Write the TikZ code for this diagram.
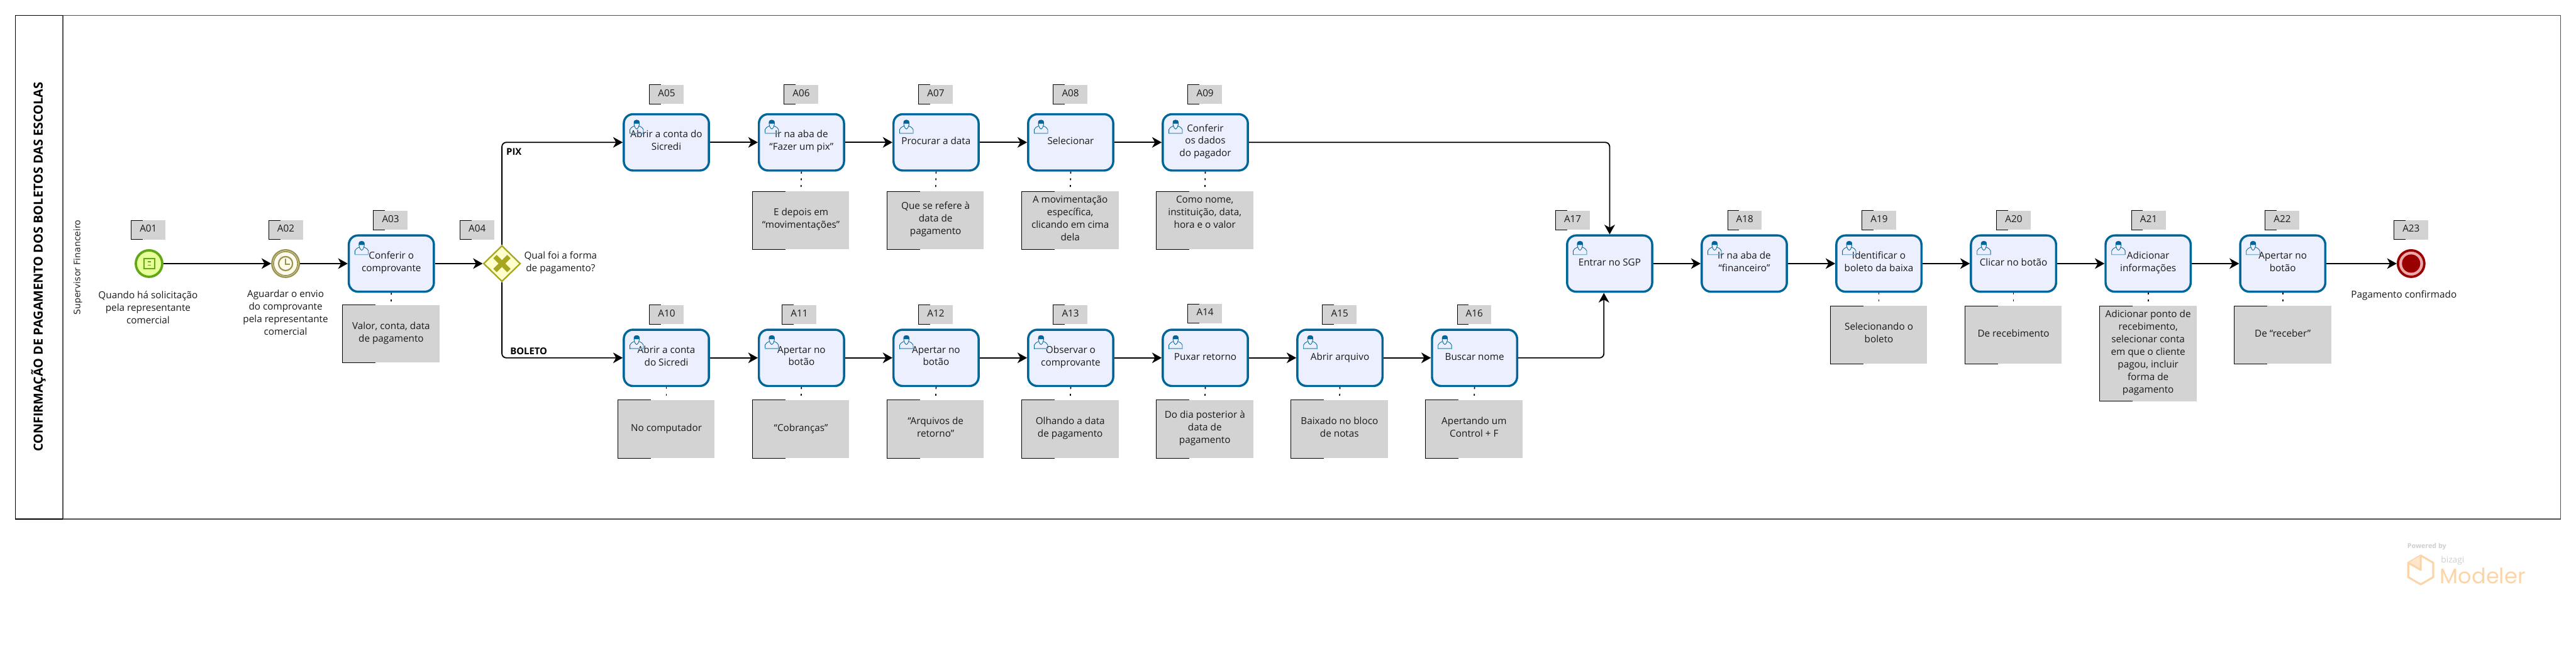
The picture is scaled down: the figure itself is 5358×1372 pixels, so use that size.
\documentclass[tikz,border=0pt]{standalone}
\usepackage{fontspec}
\setmainfont{Open Sans}
\newfontfamily\logofont{Poppins}
\newfontfamily\lanefont{DejaVu Sans}
\usetikzlibrary{arrows.meta,calc,shapes.geometric}
\definecolor{taskblue}{HTML}{00669A}
\definecolor{taskfill}{HTML}{ECEFFE}
\definecolor{tagfill}{HTML}{D3D3D3}
\definecolor{poolgrey}{HTML}{505050}
\definecolor{gwline}{HTML}{A6A620}
\definecolor{gwfill}{HTML}{FFFFCC}
\definecolor{startline}{HTML}{62A716}
\definecolor{startfill}{HTML}{E6FF97}
\definecolor{timerline}{HTML}{99924E}
\definecolor{timerfill}{HTML}{FEFAEC}
\definecolor{endline}{HTML}{990000}
\definecolor{endring}{HTML}{EDA9A9}
\definecolor{logoorange}{HTML}{FBD5A8}
\definecolor{logogrey}{HTML}{CFCFCF}
\newcommand{\linestrut}{\rule[-8.5pt]{0pt}{26pt}}
\tikzset{
  body/.style={font=\fontsize{20}{26}\selectfont,align=center,inner sep=0pt,text=black!90,
    execute at begin node=\linestrut,execute at end node=\linestrut},
  taskbox/.style={body,draw=taskblue,fill=taskfill,line width=4.5pt,rounded corners=19pt,minimum width=177pt,minimum height=117pt},
  tagbox/.style={body,fill=tagfill,minimum width=71pt,minimum height=40pt},
  notebox/.style={body,fill=tagfill,minimum width=201pt},
  bracket/.style={draw=black,line width=1.1pt},
  flow/.style={draw=black,line width=2.4pt,-{Stealth[length=20pt,width=22pt,inset=6pt]},rounded corners=9pt},
  assoc/.style={draw=black,line width=2.2pt,dash pattern=on 4pt off 10pt},
  txt/.style={body},
  gatelabel/.style={font=\fontsize{19.5}{26}\selectfont\bfseries,inner sep=0pt},
  usericon/.style={draw=taskblue,line width=1.1pt,fill=white},
}
% tag or note with the black bracket on its left side
\newcommand{\flagged}[6]{%
  \node[#1,#2] (#3) at (#4) {#5};
  \draw[bracket] ($(#3.north west)+(#6,0)$) -- (#3.north west) -- (#3.south west) -- ($(#3.south west)+(#6,0)$);
}
\newcommand{\tagat}[4][71pt]{\flagged{tagbox}{minimum width=#1}{#2}{#3}{#4}{24pt}}
\newcommand{\noteat}[4][120pt]{\flagged{notebox}{minimum height=#1}{#2}{#3}{#4}{68pt}}
% task with the user icon in its corner
\newcommand{\taskat}[3]{%
  \node[taskbox] (#1) at (#2) {#3};
  \begin{scope}[shift={($(#1.north west)+(14,14)$)}]
    \draw[usericon,fill=none] (1,28) -- (1,20) .. controls (2,16) and (6,15) .. (9,13) -- (21,13) .. controls (24,15) and (28,16) .. (29,20) -- (29,28) -- cycle;
    \draw[usericon,fill=taskfill] (15,0.5) .. controls (9,0.5) and (9,6) .. (9.5,9) .. controls (10,13) and (12,18) .. (15,19) .. controls (18,18) and (20,13) .. (20.5,9) .. controls (21,6) and (21,0.5) .. (15,0.5) -- cycle;
    \fill[taskblue] (15,0) .. controls (8.5,0) and (8.5,6) .. (9.5,8) -- (20.5,8) .. controls (21.5,6) and (21.5,0) .. (15,0) -- cycle;
    \draw[taskblue!50,line width=1.5pt] (1,27.5) -- (29,27.5);
  \end{scope}
}
\begin{document}
\begin{tikzpicture}[x=1pt,y=-1pt]
\useasboundingbox (0,0) rectangle (5358,1372);
\fill[white] (0,0) rectangle (5358,1372);
% pool
\draw[draw=poolgrey,line width=2.2pt] (32,32) rectangle (5326,1079);
\draw[draw=poolgrey,line width=2pt] (131,32) -- (131,1079);
\draw[draw=black,line width=2.2pt] (131,32) -- (32,32) -- (32,1079) -- (131,1079);
\node[rotate=90,font=\fontsize{26}{30}\selectfont\bfseries,inner sep=0pt] (title) at (80,555) {CONFIRMAÇÃO DE PAGAMENTO DOS BOLETOS DAS ESCOLAS};
\node[rotate=90,font=\lanefont\fontsize{18.3}{26}\selectfont,inner sep=0pt,text=black!85] (lane) at (162,556) {Supervisor Financeiro};

% A01 start event
\node[circle,draw=startline,fill=startfill,line width=5pt,minimum size=55pt,inner sep=0pt] (a01) at (310,548) {};
\draw[startline,line width=3pt] (299.5,537.5) rectangle (321.5,558.5);
\draw[startline,line width=2.2pt] (307,544.5) -- (314,544.5) (307,551.5) -- (314,551.5);
\tagat{ta01}{308.5,478}{A01}
\node[txt] (la01) at (308,643) {Quando há solicitação\\pela representante\\comercial};

% A02 timer event
\node[circle,draw=timerline,fill=timerfill,line width=3pt,minimum size=57pt,inner sep=0pt] (a02) at (594,548) {};
\draw[timerline,line width=2.2pt] (594,548) circle (25);
\draw[timerline,line width=2.8pt] (594,548) circle (14.5);
\draw[timerline,line width=2.4pt] (594,538) -- (594,549) -- (603,549);
\tagat{ta02}{594.5,478}{A02}
\node[txt] (la02) at (594,654) {Aguardar o envio\\do comprovante\\pela representante\\comercial};

% A03
\taskat{a03}{814,548}{Conferir o\\comprovante}
\tagat{ta03}{812.5,458}{A03}
\noteat{n03}{813.5,694}{Valor, conta, data\\de pagamento}

% A04 gateway
\node[diamond,draw=gwline,fill=gwfill,line width=3pt,minimum width=77pt,minimum height=75pt,inner sep=0pt] (a04) at (1044,548) {};
\draw[gwline,line width=10pt] (1029.5,533.5) -- (1058.5,562.5) (1058.5,533.5) -- (1029.5,562.5);
\tagat{ta04}{992.5,478}{A04}
\node[txt] (la04) at (1166,548) {Qual foi a forma\\de pagamento?};

% top row
\taskat{a05}{1386,296}{Abrir a conta do\\Sicredi}
\taskat{a06}{1667,296}{Ir na aba de\\“Fazer um pix”}
\taskat{a07}{1947,296}{Procurar a data}
\taskat{a08}{2227,296}{Selecionar}
\taskat{a09}{2507,296}{Conferir\\os dados\\do pagador}
\tagat{ta05}{1386.5,196}{A05}
\tagat{ta06}{1666.5,196}{A06}
\tagat{ta07}{1946.5,196}{A07}
\tagat{ta08}{2226.5,196}{A08}
\tagat{ta09}{2506.5,196}{A09}
\noteat{n06}{1666,458}{E depois em\\“movimentações”}
\noteat{n07}{1946,458}{Que se refere à\\data de\\pagamento}
\noteat{n08}{2226,458}{A movimentação\\específica,\\clicando em cima\\dela}
\noteat{n09}{2506,458}{Como nome,\\instituição, data,\\hora e o valor\\\mbox{}}

% bottom row
\taskat{a10}{1386,744}{Abrir a conta\\do Sicredi}
\taskat{a11}{1667,744}{Apertar no\\botão}
\taskat{a12}{1947,744}{Apertar no\\botão}
\taskat{a13}{2227,744}{Observar o\\comprovante}
\taskat{a14}{2507,744}{Puxar retorno}
\taskat{a15}{2787,744}{Abrir arquivo}
\taskat{a16}{3067,744}{Buscar nome}
\tagat{ta10}{1386.5,654}{A10}
\tagat{ta11}{1662.5,654}{A11}
\tagat{ta12}{1946.5,654}{A12}
\tagat{ta13}{2226.5,654}{A13}
\tagat{ta14}{2506.5,652}{A14}
\tagat{ta15}{2786.5,654}{A15}
\tagat{ta16}{3066.5,654}{A16}
\noteat{n10}{1386,892}{No computador}
\noteat{n11}{1666,892}{“Cobranças”}
\noteat{n12}{1946,892}{“Arquivos de\\retorno”}
\noteat{n13}{2226,892}{Olhando a data\\de pagamento}
\noteat{n14}{2506,892}{Do dia posterior à\\data de\\pagamento}
\noteat{n15}{2786,892}{Baixado no bloco\\de notas}
\noteat{n16}{3066,892}{Apertando um\\Control + F}

% merged row
\taskat{a17}{3348,548}{Entrar no SGP}
\taskat{a18}{3628,548}{Ir na aba de\\“financeiro”}
\taskat{a19}{3908,548}{Identificar o\\boleto da baixa}
\taskat{a20}{4188,548}{Clicar no botão}
\taskat{a21}{4468,548}{Adicionar\\informações}
\taskat{a22}{4748,548}{Apertar no\\botão}
\tagat{ta17}{3271,458}{A17}
\tagat{ta18}{3629,458}{A18}
\tagat{ta19}{3908.5,458}{A19}
\tagat{ta20}{4188.5,458}{A20}
\tagat{ta21}{4469,458}{A21}
\tagat{ta22}{4747,458}{A22}
\noteat{n19}{3908,696}{Selecionando o\\boleto}
\noteat{n20}{4188,696}{De recebimento}
\noteat[198pt]{n21}{4468,735}{Adicionar ponto de\\recebimento,\\selecionar conta\\em que o cliente\\pagou, incluir\\forma de\\pagamento}
\noteat{n22}{4748,696}{De “receber”}

% A23 end event
\node[circle,draw=endline,fill=endring,line width=5pt,minimum size=55pt,inner sep=0pt] (a23) at (5015,548) {};
\fill[endline] (5015,548) circle (19);
\tagat{ta23}{5015,478}{A23}
\node[txt] (la23) at (5000,615) {Pagamento confirmado};

% sequence flows
\coordinate (a17low) at (3336,609);
\draw[flow] (a01) -- (a02);
\draw[flow] (a02) -- (a03);
\draw[flow] (a03) -- (a04);
\draw[flow] (a04.north) |- (a05.west);
\draw[flow] (a04.south) |- (a10.west);
\draw[flow] (a05) -- (a06);
\draw[flow] (a06) -- (a07);
\draw[flow] (a07) -- (a08);
\draw[flow] (a08) -- (a09);
\draw[flow] (a09.east) -| (a17.north);
\draw[flow] (a10) -- (a11);
\draw[flow] (a11) -- (a12);
\draw[flow] (a12) -- (a13);
\draw[flow] (a13) -- (a14);
\draw[flow] (a14) -- (a15);
\draw[flow] (a15) -- (a16);
\draw[flow] (a16.east) -| (a17low);
\draw[flow] (a17) -- (a18);
\draw[flow] (a18) -- (a19);
\draw[flow] (a19) -- (a20);
\draw[flow] (a20) -- (a21);
\draw[flow] (a21) -- (a22);
\draw[flow] (a22) -- (a23);
\node[gatelabel,anchor=west] (lpix) at (1053,316) {PIX};
\node[gatelabel,anchor=west] (lbol) at (1061,730) {BOLETO};

% associations
\foreach \t/\n in {a03/n03,a06/n06,a07/n07,a08/n08,a09/n09,a10/n10,a11/n11,a12/n12,a13/n13,a14/n14,a15/n15,a16/n16,a19/n19,a20/n20,a21/n21,a22/n22}
  \draw[assoc] (\t.south) -- (\n.north);

% logo
\node[font=\fontsize{14}{16}\selectfont\bfseries,text=logogrey,inner sep=0pt,anchor=west] (powered) at (5007,1137) {Powered by};
\draw[logoorange,line width=4pt,line join=round] (5035,1155) -- (5061,1170) -- (5061,1200) -- (5035,1215) -- (5009,1200) -- (5009,1170) -- cycle;
\fill[logoorange!60] (5035,1155) -- (5035,1185) -- (5010,1170) -- cycle;
\draw[logoorange,line width=4pt,line join=round] (5035,1155) -- (5035,1185) -- (5009,1170);
\node[font=\fontsize{18}{20}\selectfont,text=logogrey,inner sep=0pt,anchor=west] (bizagi) at (5077,1166) {bizagi};
\node[font=\logofont\fontsize{44}{48}\selectfont,text=logoorange,inner sep=0pt,anchor=west] (modeler) at (5075,1197) {Modeler};
\end{tikzpicture}
\end{document}
